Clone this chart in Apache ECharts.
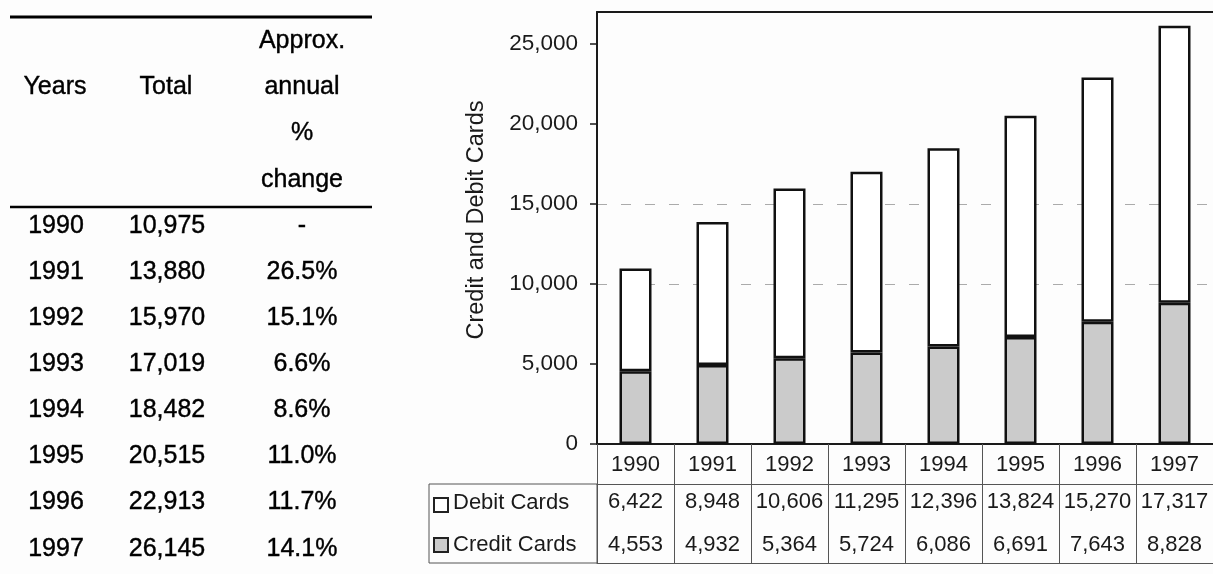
<!DOCTYPE html>
<html>
<head>
<meta charset="utf-8">
<script src="https://cdn.jsdelivr.net/npm/echarts@6/dist/echarts.min.js"></script>
<style>
  html, body { margin: 0; padding: 0; background: #fdfdfd; }
  #chart { width: 1213px; height: 574px; }
</style>
</head>
<body>
<div id="chart"></div>
<script>
// Card counts per year
const years = ['1990', '1991', '1992', '1993', '1994', '1995', '1996', '1997'];
const debitCards = [6422, 8948, 10606, 11295, 12396, 13824, 15270, 17317];
const creditCards = [4553, 4932, 5364, 5724, 6086, 6691, 7643, 8828];
const pctChange = ['-', '26.5%', '15.1%', '6.6%', '8.6%', '11.0%', '11.7%', '14.1%'];

// Value axis ticks and the two dashed guide lines
const yTicks = [0, 5000, 10000, 15000, 20000, 25000];
const yMax = 27000;
const guideValues = [10000, 15000];

const fmt = n => n.toLocaleString('en-US');
const totals = debitCards.map((d, i) => d + creditCards[i]);

const FONT = '"Liberation Sans", Arial, Helvetica, sans-serif';
const INK = '#1a1a1a';

// Split line colours indexed by tick: only guide values are visible
const splitColors = yTicks.map(v => guideValues.includes(v) ? '#ababab' : 'rgba(0,0,0,0)');
splitColors.push('rgba(0,0,0,0)');

// Summary table on the left
const tableFont = '25px ' + FONT;
const tbl = [];
tbl.push({ type: 'line', shape: { x1: 10, y1: 17, x2: 372, y2: 17 }, style: { stroke: '#000', lineWidth: 3 } });
tbl.push({ type: 'line', shape: { x1: 10, y1: 207, x2: 372, y2: 207 }, style: { stroke: '#000', lineWidth: 2.5 } });
const headText = (t, x, y) => ({
  type: 'text', x: x, y: y,
  style: { text: t, font: tableFont, fill: '#000', align: 'center', verticalAlign: 'middle', stroke: '#000', lineWidth: 0.4 }
});
tbl.push(headText('Years', 55, 87));
tbl.push(headText('Total', 166, 87));
['Approx.', 'annual', '%', 'change'].forEach((t, i) => tbl.push(headText(t, 302, 41 + i * 46.3)));
years.forEach((yr, i) => {
  const y = 226 + i * 46.1;
  tbl.push(headText(yr, 56, y));
  tbl.push(headText(fmt(totals[i]), 167, y));
  tbl.push(headText(pctChange[i], 302, y));
});

// Legend box in the data table under the chart
const legend = [
  { type: 'rect', shape: { x: 429, y: 484, width: 168, height: 79 }, style: { fill: 'none', stroke: '#555', lineWidth: 1 } },
  { type: 'rect', shape: { x: 434, y: 498, width: 14, height: 14 }, style: { fill: '#fff', stroke: '#222', lineWidth: 2 } },
  { type: 'rect', shape: { x: 434, y: 538, width: 14, height: 14 }, style: { fill: '#cbcbcb', stroke: '#222', lineWidth: 2 } },
  { type: 'text', x: 453, y: 503, style: { text: 'Debit Cards', font: '22px ' + FONT, fill: INK, align: 'left', verticalAlign: 'middle' } },
  { type: 'text', x: 453, y: 545, style: { text: 'Credit Cards', font: '22px ' + FONT, fill: INK, align: 'left', verticalAlign: 'middle' } }
];

const chart = echarts.init(document.getElementById('chart'), null, { renderer: 'canvas' });

const labelBase = { fontFamily: FONT, fontSize: 22, color: INK, interval: 0 };
const hiddenAxis = { axisTick: { show: false }, axisLabel: { show: false }, splitLine: { show: false } };

chart.setOption({
  animation: false,
  backgroundColor: '#fdfdfd',
  grid: { left: 597, right: 0, top: 12, bottom: 130, containLabel: false },
  xAxis: [
    {
      type: 'category', data: years, position: 'bottom',
      axisLine: { lineStyle: { color: INK, width: 2 } },
      axisTick: { show: true, interval: 0, length: 119, alignWithLabel: false, lineStyle: { color: '#555', width: 1 } },
      axisLabel: Object.assign({ margin: 21, verticalAlign: 'middle' }, labelBase),
      splitLine: { show: false }
    },
    Object.assign({
      type: 'category', data: debitCards.map(fmt), position: 'bottom', offset: 40,
      axisLine: { show: true, lineStyle: { color: '#555', width: 1 } }
    }, hiddenAxis, { axisLabel: Object.assign({ show: true, margin: 18, verticalAlign: 'middle' }, labelBase) }),
    Object.assign({
      type: 'category', data: creditCards.map(fmt), position: 'bottom', offset: 80,
      axisLine: { show: false }
    }, hiddenAxis, { axisLabel: Object.assign({ show: true, margin: 21, verticalAlign: 'middle' }, labelBase) }),
    Object.assign({
      type: 'category', data: years, position: 'bottom', offset: 119,
      axisLine: { show: true, lineStyle: { color: '#555', width: 1 } }
    }, hiddenAxis),
    Object.assign({
      type: 'category', data: years, position: 'top',
      axisLine: { show: true, lineStyle: { color: INK, width: 2 } }
    }, hiddenAxis)
  ],
  yAxis: {
    type: 'value', min: 0, max: yMax, interval: 5000,
    name: 'Credit and Debit Cards', nameLocation: 'middle', nameRotate: 90, nameGap: 108,
    nameTextStyle: { fontFamily: FONT, fontSize: 23.5, color: INK, padding: [0, 0, 0, 16] },
    axisLine: { show: true, lineStyle: { color: INK, width: 2 } },
    axisTick: { show: true, length: 7, customValues: yTicks, lineStyle: { color: INK, width: 1.5 } },
    axisLabel: { fontFamily: FONT, fontSize: 22.5, color: INK, margin: 19, customValues: yTicks, formatter: v => fmt(v) },
    splitLine: { show: true, lineStyle: { color: splitColors, type: [10, 14], width: 1 } }
  },
  series: [
    {
      name: 'Credit Cards', type: 'bar', stack: 'cards', data: creditCards, barWidth: 32,
      itemStyle: { color: '#cbcbcb', borderColor: '#111', borderWidth: 2.5 }
    },
    {
      name: 'Debit Cards', type: 'bar', stack: 'cards', data: debitCards, barWidth: 32,
      itemStyle: { color: '#ffffff', borderColor: '#111', borderWidth: 2.5 }
    }
  ],
  graphic: tbl.concat(legend)
});
</script>
</body>
</html>
